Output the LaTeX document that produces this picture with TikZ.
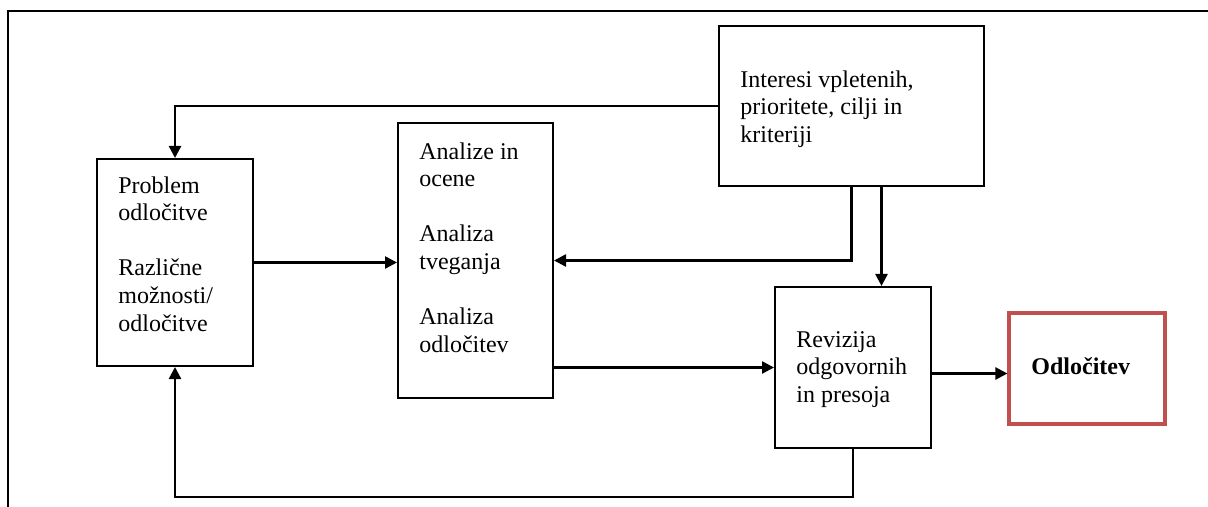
\documentclass[tikz,border=0pt]{standalone}
\usepackage{fontspec}
\setmainfont{Liberation Serif}
\usepackage{xcolor}
\usetikzlibrary{arrows.meta}
\definecolor{decred}{RGB}{192,80,77}

\begin{document}
\begin{tikzpicture}[x=0.5pt, y=-0.5pt,
    box/.style={draw, line width=1pt, inner sep=0pt},
    txt/.style={align=left, anchor=north west, inner sep=0pt,
        font=\fontsize{12}{13.8}\selectfont},
    arr/.style={line width=1.2pt, -{Triangle[length=6pt, width=6pt]}}]
    \useasboundingbox (0,0) rectangle (1208,507);
    \draw[line width=0.6pt] (8,507) |- (1208,11);
    % boxes
    \node[box, minimum width=78pt, minimum height=103.5pt] (prob) at (175, 262.5) {};
    \node[box, minimum width=77.5pt, minimum height=137.5pt] (anal) at (475.5, 260.5) {};
    \node[box, minimum width=132.5pt, minimum height=80pt] (inter) at (851.5, 106) {};
    \node[box, minimum width=78pt, minimum height=80.5pt] (rev) at (853, 367.5) {};
    \node[box, draw=decred, line width=1.6pt, minimum width=78pt, minimum height=55.5pt] (dec) at (1087, 368.5) {};
    % texts
    \node[txt] (probtxt) at (118, 176) {Problem\\odločitve\\[13.8pt]Različne\\možnosti/\\odločitve};
    \node[txt] (analtxt) at (419, 142) {Analize in\\ocene\\[13.8pt]Analiza\\tveganja\\[13.8pt]Analiza\\odločitev};
    \node[txt] (intertxt) at (740, 70) {Interesi vpletenih,\\prioritete, cilji in\\kriteriji};
    \node[txt] (revtxt) at (796, 331) {Revizija\\odgovornih\\in presoja};
    \node[txt, font=\fontsize{12}{13.8}\selectfont\bfseries] (dectxt) at (1031, 357) {Odločitev};
    % connectors
    \draw[arr] (inter.west) -| (prob.north);
    \draw[arr] (prob.east) -- (prob.east -| anal.west);
    \draw[arr] (inter.south) |- (anal.east);
    \draw[arr] ([xshift=15pt]inter.south) -- ([xshift=15pt]inter.south |- rev.north);
    \draw[arr] (anal.east |- rev.west) -- (rev.west);
    \draw[arr] ([yshift=-3pt]rev.east) -- ([yshift=-3pt]rev.east -| dec.west);
    \draw[arr] (rev.south) -- ++(0,48) -| (prob.south);
\end{tikzpicture}
\end{document}
